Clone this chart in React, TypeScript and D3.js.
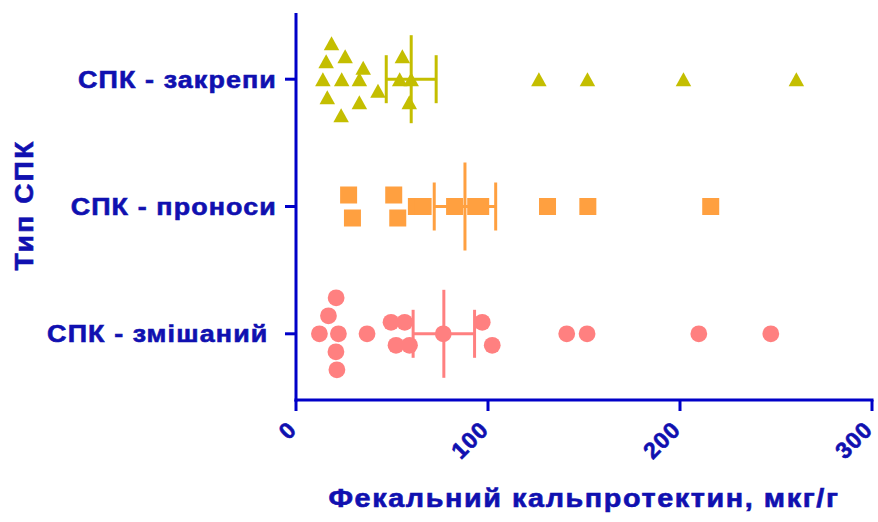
import React from 'react';
import * as d3 from 'd3';

// Groups (top to bottom)
const categories = ['СПК - закрепи', 'СПК - проноси', 'СПК - змішаний\u00A0'];

// Faecal calprotectin, µg/g, per patient
const valuesZakrepy = [14, 15.7, 16.3, 18.5, 23.5, 23.8, 25.6, 33, 33, 35, 42.7, 54, 55.4, 59, 60, 126.5, 151.8, 201.8, 260.6];
const valuesPronosy = [27.4, 29.4, 50.9, 53, 62.7, 66.2, 82.6, 93.6, 96.2, 131, 152, 216];
const valuesZmishanyi = [12.2, 16.9, 20.8, 20.9, 21.3, 22.1, 37, 49.5, 52.1, 56.6, 59.1, 76.7, 97, 102.2, 141, 151.6, 209.8, 247.3];

// Centre line and error bar half-width per group
const centreValues = [60, 88, 77];
const spreadValues = [13, 16, 16];

const xTicks = [0, 100, 200, 300];
const xTitle = 'Фекальний кальпротектин, мкг/г';
const yTitle = 'Тип СПК';

const groups = [valuesZakrepy, valuesPronosy, valuesZmishanyi];
const colors = ['#C4BE00', '#FFA040', '#FF8080'];
const shapes = ['triangle', 'square', 'circle'];

const AXIS = '#0000C8';
const TEXT = '#1010B0';
const FONT = '"Liberation Sans", Arial, sans-serif';

// Spread points of a group vertically: values are binned, each bin is laid out
// symmetrically about the group's centre line.
function swarm(values: number[], binWidth: number, maxHalf: number, step: number) {
  const bins = d3.group(values.slice().sort((a, b) => a - b), v => Math.floor((v - 5) / binWidth));
  const out: { v: number; dy: number }[] = [];
  for (const [, vs] of bins) {
    const n = vs.length;
    const sp = n > 1 ? Math.min(step, (2 * maxHalf) / (n - 1)) : 0;
    const lanes: number[] = [];
    if (n % 2 === 1) {
      for (let k = 1; k <= (n - 1) / 2; k++) lanes.push(-k, k);
      lanes.push(0);
    } else {
      for (let k = 0; k < n / 2; k++) lanes.push(-(k + 0.5), k + 0.5);
    }
    vs.forEach((v, i) => out.push({ v, dy: lanes[i] * sp }));
  }
  return out;
}

const textStyle = {
  fill: TEXT,
  stroke: TEXT,
  strokeWidth: 0.6,
  fontFamily: FONT,
  fontWeight: 'bold' as const,
};

export default function App() {
  const width = 878;
  const height = 522;
  const x = d3.scaleLinear().domain([0, 300]).range([296, 872]);
  const y = d3.scalePoint<string>().domain(categories).range([13, 400]).padding(0.52);
  const axisY = 400;

  const marker = (shape: string, cx: number, cy: number, fill: string, key: string) => {
    if (shape === 'triangle') {
      const w = 15.5, h = 14;
      return <path key={key} d={`M${cx},${cy - h / 2}L${cx + w / 2},${cy + h / 2}L${cx - w / 2},${cy + h / 2}Z`} fill={fill} />;
    }
    if (shape === 'square') {
      const s = 17;
      return <rect key={key} x={cx - s / 2} y={cy - s / 2} width={s} height={s} fill={fill} />;
    }
    return <circle key={key} cx={cx} cy={cy} r={8.4} fill={fill} />;
  };

  return (
    <svg width={width} height={height} style={{ position: 'absolute', left: 0, top: 0, background: '#fff' }}>
      {/* points */}
      {groups.map((vals, gi) => {
        const cy = y(categories[gi])!;
        return (
          <g key={gi}>
            {swarm(vals, 10, 36, 23).map((p, i) => marker(shapes[gi], x(p.v), cy + p.dy, colors[gi], `${gi}-${i}`))}
          </g>
        );
      })}
      {/* centre lines with error bars */}
      {groups.map((_, gi) => {
        const cy = y(categories[gi])!;
        const c = x(centreValues[gi]);
        const lo = x(centreValues[gi] - spreadValues[gi]);
        const hi = x(centreValues[gi] + spreadValues[gi]);
        return (
          <g key={`eb${gi}`} stroke={colors[gi]} strokeWidth={3}>
            <line x1={lo} x2={hi} y1={cy} y2={cy} />
            <line x1={lo} x2={lo} y1={cy - 24} y2={cy + 24} />
            <line x1={hi} x2={hi} y1={cy - 24} y2={cy + 24} />
            <line x1={c} x2={c} y1={cy - 44} y2={cy + 44} />
          </g>
        );
      })}
      {/* y axis */}
      <g stroke={AXIS} strokeWidth={3}>
        <line x1={x(0)} x2={x(0)} y1={13} y2={axisY + 1.5} />
        {categories.map(c => (
          <line key={c} x1={x(0) - 11} x2={x(0)} y1={y(c)!} y2={y(c)!} />
        ))}
      </g>
      {categories.map(c => (
        <g key={c} transform={`translate(277,${y(c)! + 8.5}) scale(1.12,1)`}>
          <text textAnchor="end" fontSize={24} letterSpacing={1} style={{ ...textStyle, whiteSpace: 'pre' }}>{c}</text>
        </g>
      ))}
      <g transform={`translate(33,205) rotate(-90) scale(1.12,1)`}>
        <text textAnchor="middle" fontSize={25} letterSpacing={2} style={textStyle}>{yTitle}</text>
      </g>
      {/* x axis */}
      <g stroke={AXIS} strokeWidth={3}>
        <line x1={x(0) - 1.5} x2={x(300) + 1.5} y1={axisY} y2={axisY} />
        {xTicks.map(t => (
          <line key={t} x1={x(t)} x2={x(t)} y1={axisY} y2={axisY + 11} />
        ))}
      </g>
      {xTicks.map(t => (
        <g key={t} transform={`translate(${x(t) + 2},${axisY + 31}) rotate(-45)`}>
          <text textAnchor="end" fontSize={23} letterSpacing={1} style={textStyle}>{t}</text>
        </g>
      ))}
      <g transform={`translate(${(x(0) + x(300)) / 2},507) scale(1.15,1)`}>
        <text textAnchor="middle" fontSize={25} letterSpacing={1.4} style={textStyle}>{xTitle}</text>
      </g>
    </svg>
  );
}
